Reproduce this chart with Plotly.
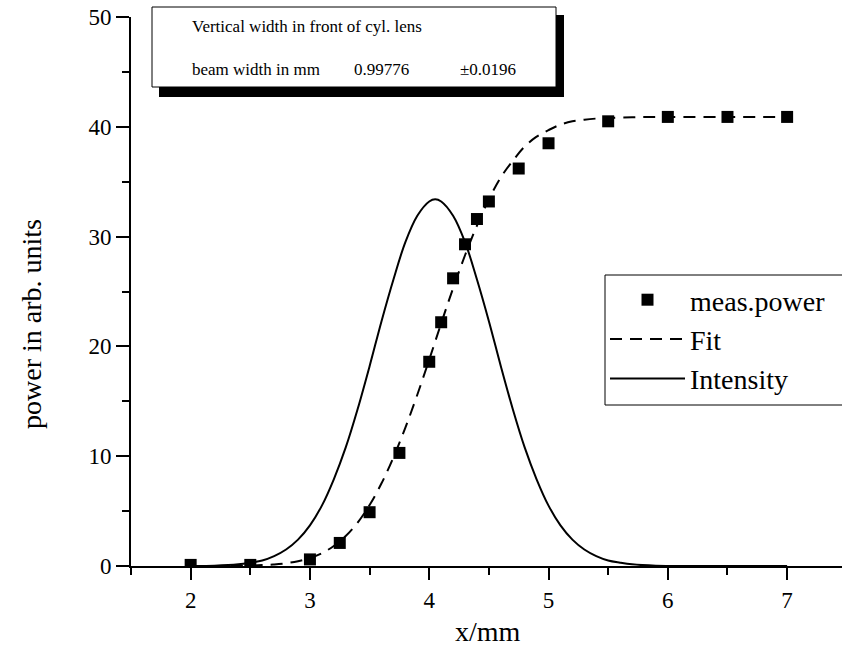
import plotly.graph_objects as go

# measured points
meas_x = [2, 2.5, 3, 3.25, 3.5, 3.75, 4, 4.1, 4.2, 4.3, 4.4, 4.5, 4.75, 5, 5.5, 6, 6.5, 7]
meas_y = [0.1, 0.1, 0.6, 2.1, 4.9, 10.3, 18.6, 22.2, 26.2, 29.3, 31.6, 33.2, 36.2, 38.5, 40.5, 40.9, 40.9, 40.9]

# fit curve
fit_x = [2.0, 2.3, 2.5, 2.6, 2.7, 2.8, 2.9, 3.0, 3.1, 3.2, 3.3, 3.4, 3.5, 3.6, 3.7, 3.8, 3.9,
         4.0, 4.1, 4.2, 4.3, 4.4, 4.5, 4.6, 4.7, 4.8, 4.9, 5.0, 5.1, 5.2, 5.3, 5.4, 5.5, 5.7,
         6.0, 6.5, 7.0]
fit_y = [0.0, 0.01, 0.04, 0.08, 0.14, 0.25, 0.44, 0.73, 1.17, 1.82, 2.73, 3.96, 5.55, 7.53, 9.9,
         12.6, 15.6, 18.8, 22.1, 25.3, 28.3, 31.0, 33.4, 35.4, 36.9, 38.2, 39.1, 39.7, 40.2, 40.5,
         40.65, 40.75, 40.8, 40.87, 40.9, 40.9, 40.9]

# intensity curve
int_x = [2.0, 2.2, 2.4, 2.5, 2.6, 2.7, 2.8, 2.9, 3.0, 3.1, 3.2, 3.3, 3.4, 3.5, 3.6, 3.7, 3.8,
         3.9, 4.0, 4.05, 4.1, 4.2, 4.3, 4.4, 4.5, 4.6, 4.7, 4.8, 4.9, 5.0, 5.1, 5.2, 5.3, 5.4,
         5.5, 5.6, 5.7, 5.9, 6.2, 7.0]
int_y = [0.01, 0.03, 0.15, 0.3, 0.5, 0.9, 1.5, 2.4, 3.7, 5.5, 7.9, 10.8, 14.3, 18.2, 22.3,
         26.1, 29.5, 31.9, 33.2, 33.4, 33.2, 31.9, 29.5, 26.1, 22.3, 18.2, 14.3, 10.8, 7.9, 5.5,
         3.7, 2.4, 1.5, 0.9, 0.5, 0.3, 0.15, 0.03, 0.0, 0.0]

box_title = "Vertical width in front of cyl. lens"
box_label = "beam width in mm"
box_value = "0.99776"
box_error = "±0.0196"

FONT = "Liberation Serif, Times New Roman, serif"

fig = go.Figure()
fig.add_trace(go.Scatter(x=meas_x, y=meas_y, mode="markers", name="meas.power",
                         marker=dict(symbol="square", size=12, color="black")))
fig.add_trace(go.Scatter(x=fit_x, y=fit_y, mode="lines", name="Fit",
                         line=dict(color="black", width=2, dash="12px,8px", shape="spline")))
fig.add_trace(go.Scatter(x=int_x, y=int_y, mode="lines", name="Intensity",
                         line=dict(color="black", width=2, shape="spline")))

L, T, W, H = 131, 17, 711, 549


def px(x):
    return (x - L) / W


def py(y):
    return (T + H - y) / H


# text box with shadow
fig.add_shape(type="rect", xref="paper", yref="paper", x0=px(159), x1=px(564), y0=py(97), y1=py(15),
              fillcolor="black", line=dict(width=0), layer="above")
fig.add_shape(type="rect", xref="paper", yref="paper", x0=px(152), x1=px(556), y0=py(87), y1=py(7),
              fillcolor="white", line=dict(color="black", width=1), layer="above")

# legend frame running off the right edge, as in the original
fig.add_shape(type="rect", xref="paper", yref="paper", x0=px(605), x1=px(860), y0=py(405), y1=py(275),
              fillcolor="white", line=dict(color="black", width=1), layer="above")

for txt, xx, yy in [(box_title, 190, 27), (box_label, 190, 70), (box_value, 352, 70), (box_error, 458, 70)]:
    fig.add_annotation(text=txt, xref="paper", yref="paper", x=px(xx), y=py(yy), xanchor="left",
                       yanchor="middle", showarrow=False, font=dict(family=FONT, size=17, color="black"))

fig.add_annotation(text="power in arb. units", xref="paper", yref="paper", x=px(31), y=py(324),
                   textangle=-90, showarrow=False, xanchor="center", yanchor="middle",
                   font=dict(family=FONT, size=28, color="black"))
fig.add_annotation(text="x/mm", xref="paper", yref="paper", x=px(488), y=py(631),
                   showarrow=False, xanchor="center", yanchor="middle",
                   font=dict(family=FONT, size=28, color="black"))

axis_common = dict(showline=True, linecolor="black", linewidth=2, ticks="outside", tickwidth=2,
                   tickcolor="black", showgrid=False, zeroline=False,
                   tickfont=dict(family=FONT, size=23, color="black"))

fig.update_xaxes(range=[1.5, 7.46], tick0=2, dtick=1, ticklen=12,
                 minor=dict(ticks="outside", dtick=0.5, tick0=1.5, ticklen=7, tickwidth=2, tickcolor="black"),
                 **axis_common)
fig.update_yaxes(range=[0, 50], tick0=0, dtick=10, ticklen=13,
                 minor=dict(ticks="outside", dtick=5, tick0=0, ticklen=7, tickwidth=2, tickcolor="black"),
                 **axis_common)

fig.update_layout(width=842, height=649, margin=dict(l=L, r=0, t=T, b=649 - T - H),
                  plot_bgcolor="white", paper_bgcolor="white",
                  legend=dict(x=px(605), y=py(275), xanchor="left", yanchor="top",
                              borderwidth=0, bgcolor="rgba(0,0,0,0)",
                              font=dict(family=FONT, size=28, color="black"),
                              itemwidth=75, tracegroupgap=0),
                  showlegend=True)

fig.write_html("out.html")
